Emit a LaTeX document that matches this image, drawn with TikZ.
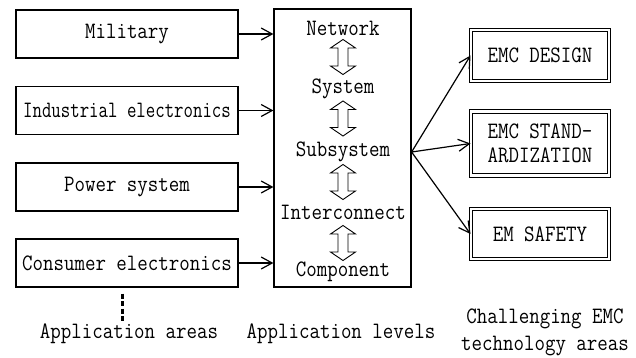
\documentclass[tikz,border=0pt]{standalone}
\usepackage{fontspec}
\setmainfont{Latin Modern Mono}[FakeStretch=0.867]
\newfontfamily\narrowfont{Latin Modern Mono}[FakeStretch=0.78]
\usepackage{tikz}
\usetikzlibrary{calc,positioning,arrows.meta}

\begin{document}
\begin{tikzpicture}[
    x=1pt, y=-1pt,
    >={Straight Barb[length=11pt,width=12pt]},
    line width=1.2pt,
    every node/.style={font=\fontsize{23.5}{28}\selectfont, inner sep=0pt},
    areabox/.style={draw, minimum width=222pt, minimum height=48pt},
    levelbox/.style={draw, minimum width=137pt, minimum height=278pt},
    techbox/.style={draw, double, double distance=2.2pt, line width=1pt,
      minimum width=138pt},
    flow/.style={->, line width=1.2pt},
    updown/.pic={
      \draw[line width=0.9pt] (0,-17.5) -- (12.5,-9) -- (5,-9) -- (5,9) -- (12.5,9)
        -- (0,17.5) -- (-12.5,9) -- (-5,9) -- (-5,-9) -- (-12.5,-9) -- cycle;
    }
  ]
    \useasboundingbox (0,0) rectangle (636,358);

    %------------------ Application areas ------------------%
    \node[areabox] (mil) at (127,34)    {Military};
    \node[areabox] (ind) at (127,110.5) {\narrowfont Industrial electronics};
    \node[areabox] (pow) at (127,187)   {Power system};
    \node[areabox] (con) at (127,263)   {Consumer electronics};

    %------------------ Application levels -----------------%
    \node[levelbox] (lev) at (342.5,148) {};
    \node (net) at (343,28)  {Network};
    \node (sys) at (343,89)  {System};
    \node (sub) at (343,152) {Subsystem};
    \node (int) at (343,212) {Interconnect};
    \node (com) at (343,272) {Component};

    % hollow double arrows between levels
    \pic at ($(net)!0.5!(sys)+(0,-1.5)$) {updown};
    \pic at ($(sys)!0.5!(sub)+(0,-2)$)   {updown};
    \pic at ($(sub)!0.5!(int)$)          {updown};
    \pic at ($(int)!0.5!(com)+(0,1)$)    {updown};

    % areas feed the levels
    \foreach \a in {mil,ind,pow,con}
      \draw[flow] (\a.east) -- (\a.east -| lev.west);

    %------------------ Challenging technology areas -------%
    \node[techbox, minimum height=51pt] (des) at (540,55.5) {EMC DESIGN};
    \node[techbox, minimum height=64pt, align=center,
      font=\fontsize{23.5}{24}\selectfont] (std) at (540,143.5) {EMC STAND-\\ARDIZATION};
    \node[techbox, minimum height=50pt] (saf) at (540,234) {EM SAFETY};

    \coordinate (fork) at (lev.east |- sub);
    \draw[flow] (fork) -- (des.west);
    \draw[flow] (fork) -- (std.west);
    \draw[flow] (fork) -- (saf.west);

    % more areas below
    \coordinate (dtop) at ($(con.south)+(-5,6)$);
    \draw[line width=3pt, dash pattern=on 5pt off 2.5pt] (dtop) -- ++(0,28);

    %------------------ Captions ---------------------------%
    \node (capa) at (129,334) {Application areas};
    \node (capl) at (341,334) {Application levels};
    \node[align=center, font=\fontsize{23.5}{27}\selectfont] (capc) at (545,332)
      {Challenging EMC\\technology areas};

\end{tikzpicture}
\end{document}
